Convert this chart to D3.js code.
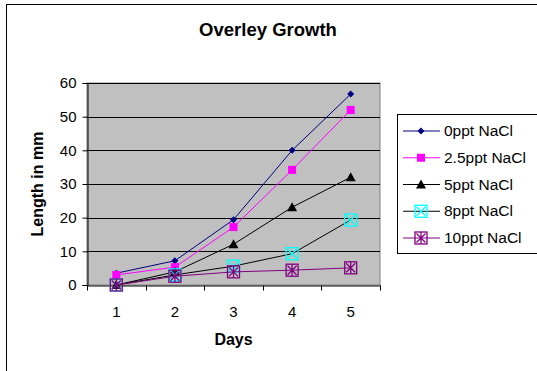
<!DOCTYPE html>
<html>
<head>
<meta charset="utf-8">
<script src="https://cdn.jsdelivr.net/npm/d3@7"></script>
<style>
  html, body { margin: 0; padding: 0; background: #fff; }
  svg { display: block; font-family: "Liberation Sans", Arial, sans-serif; }
</style>
</head>
<body>
<svg id="chart" width="537" height="371"></svg>
<script>
// Overley growth: length (mm) by day for each salinity level
const days = [1, 2, 3, 4, 5];
const yTicks = [0, 10, 20, 30, 40, 50, 60];
const seriesNames = ["0ppt NaCl", "2.5ppt NaCl", "5ppt NaCl", "8ppt NaCl", "10ppt NaCl"];
const ppt0 = [3.5, 7.2, 19.4, 40, 56.7];
const ppt2_5 = [3, 5.3, 17.2, 34.2, 52];
const ppt5 = [0, 3.9, 12.1, 23.1, 32];
const ppt8 = [0, 3, 5.6, 9.3, 19.3];
const ppt10 = [0, 2.6, 3.9, 4.4, 5.1];

const seriesValues = [ppt0, ppt2_5, ppt5, ppt8, ppt10];
const lineColors = ["#000080", "#FF00FF", "#000000", "#000000", "#800080"];
const markerTypes = ["diamond", "square", "triangle", "xbox", "starbox"];

const svg = d3.select("#chart");
const FONT = "Liberation Sans, Arial, sans-serif";

// outer chart frame
svg.append("rect").attr("x", 6.5).attr("y", 4.5).attr("width", 540).attr("height", 380)
  .attr("fill", "#fff").attr("stroke", "#000").attr("stroke-width", 1);

const plot = { left: 87, right: 380, top: 83, bottom: 285 };

const x = d3.scaleBand().domain(days).range([plot.left, plot.right]);
const y = d3.scaleLinear().domain([0, 60]).range([plot.bottom, plot.top]);
const cx = d => x(d) + x.bandwidth() / 2;

// plot background
svg.append("rect").attr("x", plot.left).attr("y", plot.top)
  .attr("width", plot.right - plot.left).attr("height", plot.bottom - plot.top)
  .attr("fill", "#C0C0C0").attr("stroke", "#808080").attr("stroke-width", 1);

// horizontal gridlines
svg.append("g").selectAll("line").data(yTicks.filter(t => t > 0)).join("line")
  .attr("x1", plot.left).attr("x2", plot.right)
  .attr("y1", d => Math.round(y(d)) + 0.5).attr("y2", d => Math.round(y(d)) + 0.5)
  .attr("stroke", "#000").attr("stroke-width", 1);

// y axis
const yAxis = svg.append("g").attr("transform", `translate(${plot.left + 0.5},0)`)
  .call(d3.axisLeft(y).tickValues(yTicks).tickSize(5).tickPadding(6));
yAxis.select(".domain").attr("stroke", "#000");
yAxis.selectAll("text").attr("font-size", 15).attr("fill", "#000").attr("font-family", FONT);

// x axis: labels centred in each band, ticks on band edges
const xAxis = svg.append("g").attr("transform", `translate(0,${plot.bottom + 0.5})`)
  .call(d3.axisBottom(x).tickSize(0).tickPadding(21));
xAxis.select(".domain").attr("stroke", "#000");
xAxis.selectAll("text").attr("font-size", 15).attr("fill", "#000").attr("font-family", FONT);
const edges = days.map(d => x(d)).concat([plot.right]);
xAxis.append("g").selectAll("line").data(edges).join("line")
  .attr("x1", d => Math.round(d) + 0.5).attr("x2", d => Math.round(d) + 0.5)
  .attr("y1", 0).attr("y2", 5).attr("stroke", "#000");

// titles
svg.append("text").attr("x", 268).attr("y", 36).attr("text-anchor", "middle")
  .attr("font-size", 18.5).attr("font-weight", "bold").text("Overley Growth");
svg.append("text").attr("x", (plot.left + plot.right) / 2).attr("y", 345)
  .attr("text-anchor", "middle").attr("font-size", 16).attr("font-weight", "bold").text("Days");
svg.append("text").attr("transform", `translate(43,${(plot.top + plot.bottom) / 2}) rotate(-90)`)
  .attr("text-anchor", "middle").attr("font-size", 16).attr("font-weight", "bold").text("Length in mm");

// marker drawing
function drawMarker(g, type, px, py) {
  if (type === "diamond") {
    g.append("path").attr("d", `M${px},${py - 3.5}L${px + 3.5},${py}L${px},${py + 3.5}L${px - 3.5},${py}Z`)
      .attr("fill", "#000080");
  } else if (type === "square") {
    g.append("rect").attr("x", px - 4).attr("y", py - 4).attr("width", 8).attr("height", 8)
      .attr("fill", "#FF00FF");
  } else if (type === "triangle") {
    g.append("path").attr("d", `M${px},${py - 5}L${px + 5},${py + 4}L${px - 5},${py + 4}Z`)
      .attr("fill", "#000");
  } else if (type === "xbox") {
    g.append("rect").attr("x", px - 6).attr("y", py - 6).attr("width", 12).attr("height", 12)
      .attr("fill", "none").attr("stroke", "#00FFFF").attr("stroke-width", 1.3);
    g.append("path").attr("d", `M${px - 4.5},${py - 4.5}L${px + 4.5},${py + 4.5}M${px + 4.5},${py - 4.5}L${px - 4.5},${py + 4.5}`)
      .attr("stroke", "#00FFFF").attr("stroke-width", 1.3);
  } else if (type === "starbox") {
    g.append("rect").attr("x", px - 6).attr("y", py - 6).attr("width", 12).attr("height", 12)
      .attr("fill", "none").attr("stroke", "#800080").attr("stroke-width", 1.3);
    g.append("path").attr("d", `M${px - 4.5},${py - 4.5}L${px + 4.5},${py + 4.5}M${px + 4.5},${py - 4.5}L${px - 4.5},${py + 4.5}M${px},${py - 6}L${px},${py + 6}`)
      .attr("stroke", "#800080").attr("stroke-width", 1.3);
  }
}

// series lines and markers
const line = d3.line().x((v, i) => cx(days[i])).y(v => y(v));
seriesValues.forEach((vals, s) => {
  const g = svg.append("g");
  g.append("path").attr("d", line(vals)).attr("fill", "none")
    .attr("stroke", lineColors[s]).attr("stroke-width", 1);
  vals.forEach((v, i) => drawMarker(g, markerTypes[s], cx(days[i]), y(v)));
});

// legend
const leg = { x: 397, y: 114, w: 140, h: 139 };
svg.append("rect").attr("x", leg.x + 0.5).attr("y", leg.y + 0.5).attr("width", leg.w).attr("height", leg.h)
  .attr("fill", "#fff").attr("stroke", "#000");
const legY = d3.scalePoint().domain(seriesNames).range([131, 238]);
seriesNames.forEach((name, s) => {
  const g = svg.append("g");
  const ly = legY(name);
  g.append("line").attr("x1", 403).attr("x2", 440).attr("y1", ly).attr("y2", ly)
    .attr("stroke", lineColors[s]).attr("stroke-width", 1);
  drawMarker(g, markerTypes[s], 421, ly);
  g.append("text").attr("x", 444).attr("y", ly + 5).attr("font-size", 15.5).text(name);
});
</script>
</body>
</html>
